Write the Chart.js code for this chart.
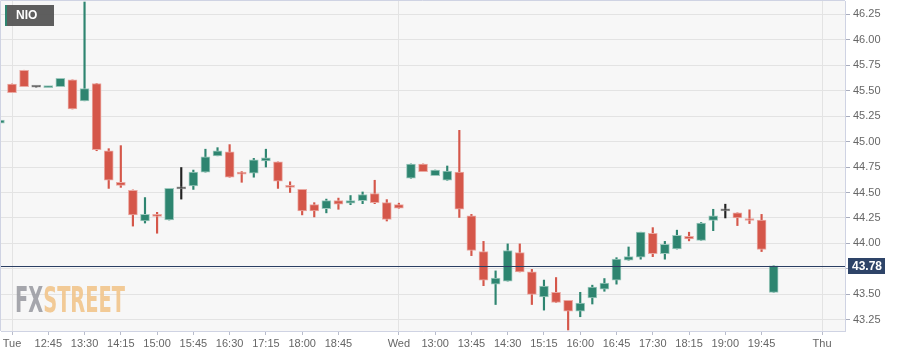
<!DOCTYPE html>
<html>
<head>
<meta charset="utf-8">
<script src="https://cdn.jsdelivr.net/npm/chart.js@4/dist/chart.umd.min.js"></script>
<style>
  html, body { margin: 0; padding: 0; background: #ffffff; }
  #wrap { width: 916px; height: 357px; position: relative; }
</style>
</head>
<body>
<div id="wrap"><canvas id="c" width="916" height="357"></canvas></div>
<script>
// ---- data (15-minute candles, NIO) ----
const symbol = 'NIO';
const lastPrice = 43.78;
const opens  = [45.18,45.565,45.70,45.535,45.53,45.54,45.605,45.40,45.57,44.91,44.60,44.52,44.22,44.275,44.23,44.535,44.565,44.70,44.86,44.90,44.70,44.69,44.81,44.80,44.57,44.53,44.38,44.34,44.42,44.395,44.42,44.49,44.40,44.38,44.64,44.78,44.665,44.62,44.70,44.27,43.92,43.60,43.63,43.91,43.72,43.475,43.52,43.44,43.335,43.465,43.55,43.64,43.835,43.865,44.10,43.90,43.945,44.07,44.03,44.225,44.32,44.30,44.24,44.23,43.52];
const highs  = [45.215,45.565,45.70,45.535,45.535,45.62,45.605,46.37,45.57,44.93,44.96,44.525,44.45,44.305,44.54,44.745,44.72,44.925,44.94,44.97,44.705,44.835,44.925,44.80,44.605,44.53,44.40,44.435,44.445,44.47,44.505,44.62,44.43,44.395,44.78,44.78,44.72,44.76,45.11,44.285,44.02,43.73,43.995,43.995,43.745,43.64,43.665,43.44,43.52,43.59,43.655,43.86,43.965,44.11,44.155,44.02,44.13,44.11,44.205,44.335,44.385,44.30,44.33,44.285,43.78];
const lows   = [45.045,45.48,45.54,45.535,45.53,45.54,45.32,45.40,44.91,44.54,44.55,44.17,44.20,44.10,44.23,44.435,44.53,44.70,44.86,44.65,44.60,44.65,44.75,44.54,44.50,44.28,44.26,44.30,44.335,44.38,44.39,44.39,44.22,44.345,44.64,44.705,44.665,44.62,44.255,43.88,43.585,43.40,43.63,43.72,43.40,43.345,43.42,43.15,43.28,43.405,43.53,43.60,43.835,43.845,43.87,43.845,43.945,44.025,44.03,44.125,44.25,44.175,44.195,43.92,43.52];
const closes = [45.21,45.48,45.54,45.535,45.535,45.62,45.32,45.52,44.92,44.62,44.57,44.28,44.285,44.265,44.54,44.535,44.70,44.85,44.91,44.65,44.68,44.82,44.84,44.61,44.55,44.32,44.32,44.42,44.385,44.42,44.48,44.40,44.235,44.345,44.78,44.705,44.72,44.71,44.335,43.93,43.64,43.66,43.93,43.72,43.50,43.58,43.42,43.335,43.415,43.57,43.61,43.845,43.87,44.11,43.90,43.99,44.08,44.045,44.20,44.27,44.32,44.25,44.225,43.94,43.78];
const timeTickSlots  = [1,4,7,10,13,16,19,22,25,28,33,36,39,42,45,48,51,54,57,60,63,68];
const timeTickLabels = ['Tue','12:45','13:30','14:15','15:00','15:45','16:30','17:15','18:00','18:45','Wed','13:00','13:45','14:30','15:15','16:00','16:45','17:30','18:15','19:00','19:45','Thu'];
const daySlots = [1,33,68];
const priceTicks = [43.25,43.50,43.75,44.00,44.25,44.50,44.75,45.00,45.25,45.50,45.75,46.00,46.25];

// ---- styling ----
const UP = '#2e8570', UP_EDGE = '#9cc8bd';
const DOWN = '#d5574a', DOWN_EDGE = '#eaa9a2';
const FLAT = '#222222', FLAT_EDGE = '#9a9a9a';
function kind(i){ return closes[i] > opens[i] ? 1 : (closes[i] < opens[i] ? -1 : 0); }
function fillOf(i){ const k = kind(i); return k > 0 ? UP : (k < 0 ? DOWN : FLAT); }
function edgeOf(i){ const k = kind(i); return k > 0 ? UP_EDGE : (k < 0 ? DOWN_EDGE : FLAT_EDGE); }

const bodies = closes.map((c, i) => ({ x: i, y: [opens[i], c] }));
const wicks  = highs.map((h, i) => ({ x: i, y: [lows[i], h] }));

Chart.defaults.font.family = '"Liberation Sans", Arial, sans-serif';
Chart.defaults.font.size = 11;
Chart.defaults.color = '#666';

const deco = {
  id: 'deco',
  beforeDraw(chart) {
    const { ctx, chartArea: a } = chart;
    ctx.save();
    ctx.fillStyle = '#ffffff';
    ctx.fillRect(0, 0, chart.width, chart.height);
    ctx.fillStyle = '#f7f7f7';
    ctx.fillRect(a.left, a.top, a.right - a.left, a.bottom - a.top);
    ctx.restore();
  },
  beforeDatasetsDraw(chart) {
    const { ctx } = chart;
    ctx.save();
    ctx.font = 'bold 36px "DejaVu Sans Condensed", "Liberation Sans Narrow", sans-serif';
    ctx.textBaseline = 'alphabetic';
    const w1 = ctx.measureText('FX').width, w2 = ctx.measureText('STREET').width;
    const sx = 110 / (w1 + w2);
    ctx.translate(15, 312);
    ctx.scale(sx, 1);
    ctx.globalAlpha = 0.9;
    ctx.fillStyle = '#9b9ca3';
    ctx.fillText('FX', 0, 0);
    ctx.fillStyle = '#f1c48b';
    ctx.fillText('STREET', w1, 0);
    ctx.restore();
  },
  afterDatasetsDraw(chart) {
    const { ctx, chartArea: a, scales } = chart;
    const y = Math.round(scales.y.getPixelForValue(lastPrice)) + 0.5;
    ctx.save();
    ctx.strokeStyle = '#2b3f63';
    ctx.lineWidth = 1;
    ctx.beginPath(); ctx.moveTo(a.left, y); ctx.lineTo(a.right, y); ctx.stroke();
    ctx.restore();
  },
  afterDraw(chart) {
    const { ctx, chartArea: a, scales } = chart;
    ctx.save();
    ctx.strokeStyle = '#cfd3e3';
    ctx.lineWidth = 1;
    ctx.beginPath();
    ctx.moveTo(a.left - 0.5, a.bottom); ctx.lineTo(a.left - 0.5, a.top - 0.5); ctx.lineTo(a.right, a.top - 0.5);
    ctx.stroke();
    const y = scales.y.getPixelForValue(lastPrice);
    ctx.fillStyle = '#2e4468';
    ctx.fillRect(a.right + 3, Math.round(y) - 8, 37, 16);
    ctx.fillStyle = '#ffffff';
    ctx.font = 'bold 12px "Liberation Sans", Arial, sans-serif';
    ctx.textBaseline = 'middle';
    ctx.textAlign = 'left';
    ctx.fillText(lastPrice.toFixed(2), a.right + 7, Math.round(y) + 0.5);
    ctx.fillStyle = 'rgba(85,85,85,0.95)';
    ctx.fillRect(5, 5, 49, 21);
    ctx.fillStyle = UP;
    ctx.fillRect(5, 5, 2, 21);
    ctx.fillStyle = '#ffffff';
    ctx.font = 'bold 12px "Liberation Sans", Arial, sans-serif';
    ctx.fillText(symbol, 16, 16);
    ctx.restore();
  }
};

new Chart(document.getElementById('c'), {
  type: 'bar',
  data: {
    datasets: [
      {
        label: 'body', data: bodies, order: 0, grouped: false,
        barThickness: 9, minBarLength: 2, borderSkipped: false, borderWidth: 1,
        backgroundColor: c => fillOf(c.dataIndex), borderColor: c => edgeOf(c.dataIndex)
      },
      {
        label: 'wick', data: wicks, order: 1, grouped: false,
        barThickness: 1.5, borderWidth: 0,
        backgroundColor: c => fillOf(c.dataIndex)
      }
    ]
  },
  options: {
    responsive: false, animation: false,
    layout: { padding: { left: 1, top: 1, right: 0, bottom: 0 } },
    plugins: { legend: { display: false }, tooltip: { enabled: false } },
    scales: {
      x: {
        type: 'linear', min: 0.09, max: 69.9, offset: false,
        afterBuildTicks: s => { s.ticks = timeTickSlots.map(v => ({ value: v })); },
        afterFit: s => { s.height = 26; s.paddingLeft = 0; s.paddingRight = 0; },
        ticks: {
          autoSkip: false, maxRotation: 0, padding: 2, color: '#666',
          callback: v => { const k = timeTickSlots.indexOf(v); return k >= 0 ? timeTickLabels[k] : ''; }
        },
        grid: {
          offset: false,
          color: c => (c.tick && daySlots.includes(c.tick.value)) ? '#e3e3e3' : 'rgba(0,0,0,0)',
          tickColor: '#b8bccb', tickLength: 4, lineWidth: 1
        },
        border: { display: true, color: '#cfd3e3' }
      },
      y: {
        type: 'linear', position: 'right', min: 43.14, max: 46.38,
        afterBuildTicks: s => { s.ticks = priceTicks.map(v => ({ value: v })); },
        afterFit: s => { s.width = 71; s.paddingTop = 0; s.paddingBottom = 0; },
        ticks: {
          padding: 3, color: '#666',
          callback: v => Math.abs(v - lastPrice) < 0.1 ? '' : Number(v).toFixed(2)
        },
        grid: { color: '#e3e3e3', tickColor: '#a9adbd', tickLength: 5 },
        border: { display: true, color: '#cfd3e3' }
      }
    }
  },
  plugins: [deco]
});
</script>
</body>
</html>
